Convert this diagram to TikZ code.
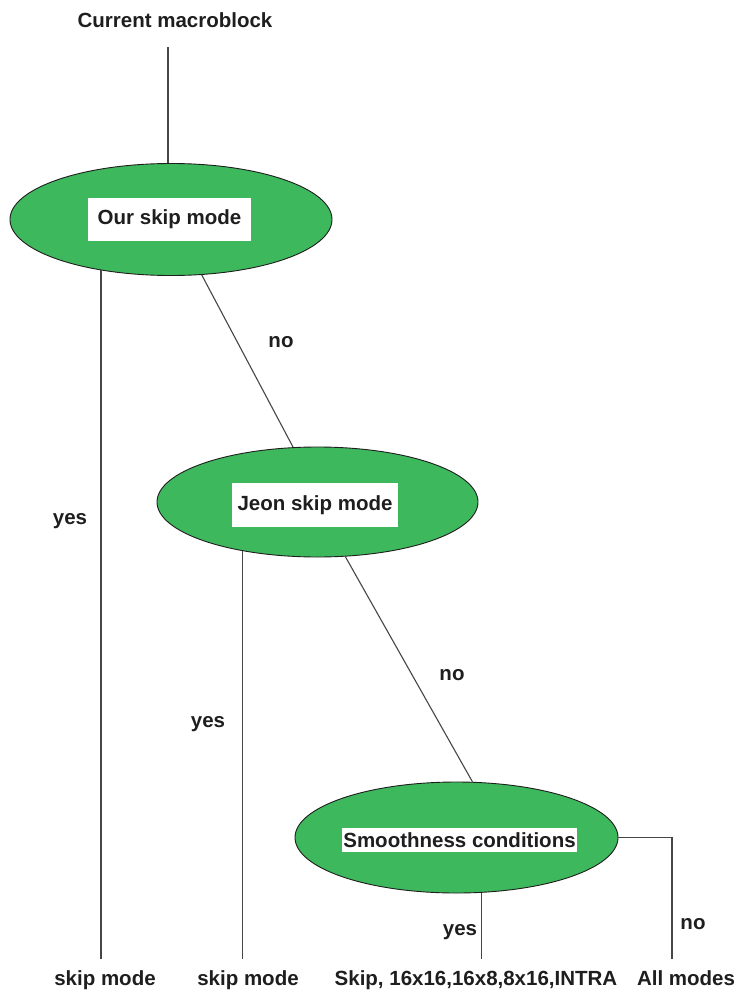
\documentclass[tikz,border=0pt]{standalone}
\usepackage{fontspec}
\setmainfont{Liberation Sans}
\usetikzlibrary{shapes.geometric}
\definecolor{leafgreen}{RGB}{62,184,92}
\definecolor{ink}{RGB}{30,30,30}
\definecolor{wire}{RGB}{70,70,70}
\begin{document}
\begin{tikzpicture}[x=1pt,y=-1pt,
  txt/.style={font=\fontsize{20.5}{24}\selectfont\bfseries, text=ink},
  decision/.style={ellipse, draw=ink, line width=0.9pt, fill=leafgreen,
    minimum width=322pt, minimum height=112pt, inner sep=0pt},
  tag/.style={txt, fill=white, inner sep=0pt},
  lbl/.style={txt, inner sep=0pt, anchor=mid},
  leaf/.style={txt, inner sep=2pt, anchor=base},
  link/.style={draw=wire, line width=1.1pt}]
\useasboundingbox (0,0) rectangle (735,995);

% start
\node[txt, inner sep=0pt, anchor=base] (cur) at (175,28) {Current macroblock};

% decisions
\node[decision] (e1) at (171,219.5) {};
\node[tag, minimum width=163pt, minimum height=43pt] (t1) at (169.5,219.5) {Our skip mode};

\node[decision, minimum width=321pt, minimum height=110pt] (e2) at (317.5,502) {};
\node[tag, minimum width=166pt, minimum height=44pt] (t2) at (315,505) {Jeon skip mode};

\node[decision, minimum width=323pt, minimum height=111pt] (e3) at (456.5,837.5) {};
\node[tag, minimum width=235pt, minimum height=24pt] (t3) at (459.5,840) {Smoothness conditions};

% outcomes
\node[leaf] (s1) at (105,985) {skip mode};
\node[leaf] (s2) at (248,985) {skip mode};
\node[leaf] (s3) at (476,985) {Skip, 16x16,16x8,8x16,INTRA};
\node[leaf] (s4) at (686,985) {All modes};

% branch labels
\node[lbl] (y1) at (70,522) {yes};
\node[lbl] (n1) at (281,345) {no};
\node[lbl] (y2) at (208,725) {yes};
\node[lbl] (n2) at (452,678) {no};
\node[lbl] (y3) at (460,933) {yes};
\node[lbl] (n3) at (693,927) {no};

% connectors
\draw[link, shorten >=19pt] ([xshift=-3pt]e1.north) -- ([xshift=-3pt]e1.north |- cur.south);
\draw[link, shorten >=9pt] (e1.216) -- (e1.216 |- s1.north);
\draw[link] (e1.299) -- (e2.114);
\draw[link, shorten >=9pt] (e2.213) -- (e2.213 |- s2.north);
\draw[link] (e2.297) -- (e3.74);
\draw[link, shorten >=9pt] (e3.294) -- (e3.294 |- s3.north);
\draw[link, shorten >=9pt] (e3.east) -| ([xshift=-14pt]s4.north);
\end{tikzpicture}
\end{document}
